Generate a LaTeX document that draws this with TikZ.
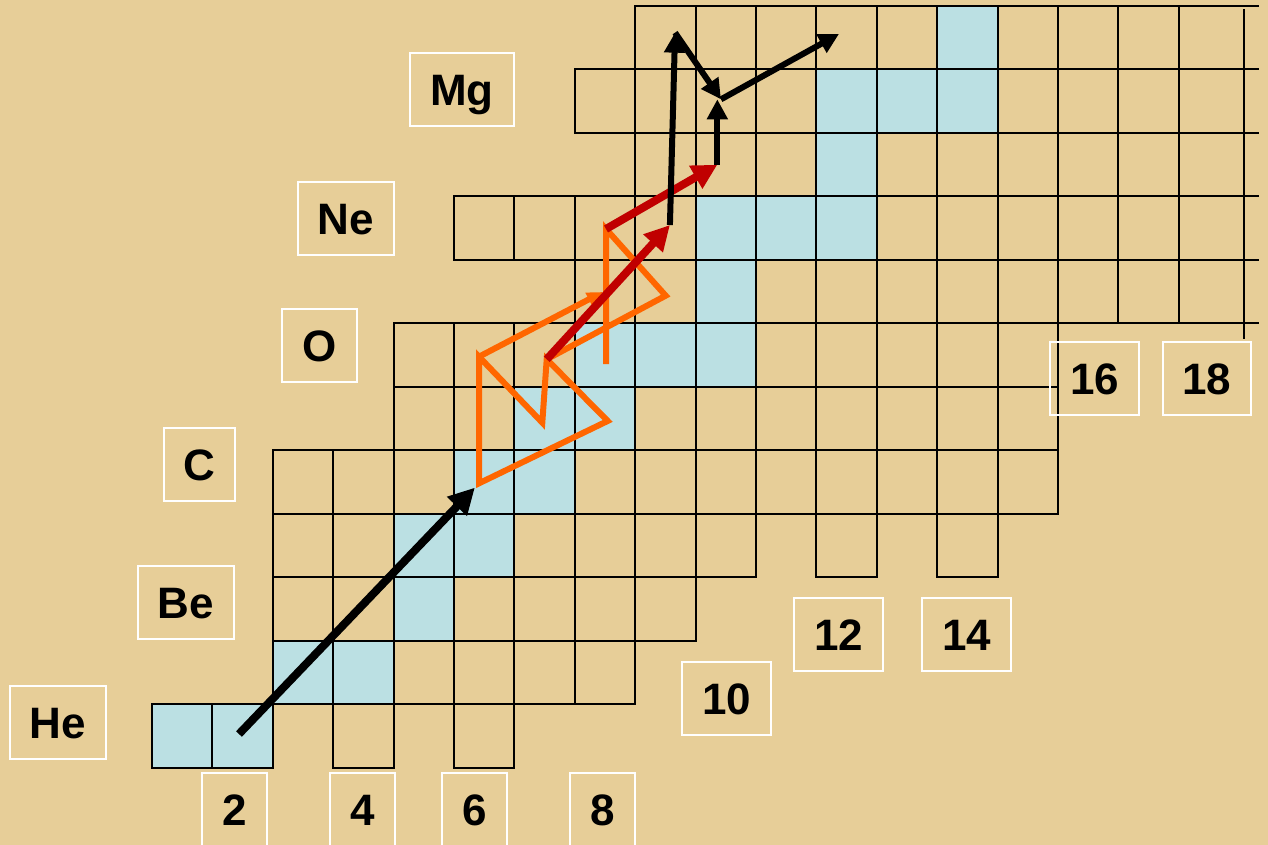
\documentclass[tikz,border=0pt]{standalone}
\usepackage{fontspec}
\setmainfont{Liberation Sans}
\usetikzlibrary{arrows.meta}
\definecolor{paper}{RGB}{231,206,152}
\definecolor{stable}{RGB}{187,224,227}
\definecolor{cnoorange}{RGB}{255,102,0}
\definecolor{breakred}{RGB}{192,0,0}
\tikzset{
    cell/.style={draw=black, line width=1pt},
    stable cell/.style={fill=stable},
    chartlabel/.style={
        draw=white, line width=1pt,
        minimum height=36.5pt, inner xsep=10pt,
        text height=15.75pt, text depth=0pt,
        font=\bfseries\fontsize{22}{26}\selectfont
    },
    alpha path/.style={line width=4pt, black, -{Triangle[length=13pt,width=13pt]}},
    cno path/.style={line width=3pt, cnoorange},
    breakout/.style={line width=4pt, breakred, -{Triangle[length=12.5pt,width=12.5pt]}},
    rp path/.style={line width=3pt, black, -{Triangle[length=10pt,width=10pt]}}
}

\begin{document}
\begin{tikzpicture}[x=30.2pt, y=31.75pt]
    \fill[paper] (-2.5166,-1.2126) rectangle (18.477,12.0945);
    \useasboundingbox (-2.5166,-1.2126) rectangle (18.477,12.0945);
    % stable nuclei
    \foreach \c/\r in {0/0,1/0,2/1,3/1,4/2,4/3,5/3,5/4,6/4,6/5,7/5,7/6,8/6,9/6,
                       9/7,9/8,10/8,11/8,11/9,11/10,12/10,13/10,13/11}
        \fill[stable cell] (\c,\r) rectangle ++(1,1);
    % chart cells, row by row
    \foreach \r/\cols in {0/{0,1,3,5}, 1/{2,...,7}, 2/{2,...,8}, 3/{2,...,9,11,13},
                          4/{2,...,14}, 5/{4,...,14}, 6/{4,...,14}, 7/{7,...,16},
                          8/{5,...,16}, 9/{8,...,16}, 10/{7,...,16}, 11/{8,...,16}}
        \foreach \c in \cols
            \draw[cell] (\c,\r) rectangle ++(1,1);
    \foreach \r in {7,...,12}
        \draw[cell] (17,\r) -- (18.33,\r);
    \draw[cell] (18.08,6.756) -- (18.08,11.95);

    % element and neutron number labels
    \node[chartlabel] (He) at (-1.560,0.709) {He};
    \node[chartlabel] (Be) at (0.563,2.606) {Be};
    \node[chartlabel] (C) at (0.786,4.780) {C};
    \node[chartlabel] (O) at (2.773,6.646) {O};
    \node[chartlabel] (Ne) at (3.212,8.654) {Ne};
    \node[chartlabel] (Mg) at (5.132,10.677) {Mg};
    \node[chartlabel] (n2) at (1.366,-0.661) {2};
    \node[chartlabel] (n4) at (3.485,-0.661) {4};
    \node[chartlabel] (n6) at (5.339,-0.661) {6};
    \node[chartlabel] (n8) at (7.459,-0.661) {8};
    \node[chartlabel] (n10) at (9.512,1.094) {10};
    \node[chartlabel] (n12) at (11.366,2.102) {12};
    \node[chartlabel] (n14) at (13.485,2.102) {14};
    \node[chartlabel] (n16) at (15.604,6.134) {16};
    \node[chartlabel] (n18) at (17.467,6.134) {18};

    \coordinate (He4) at (1.44,0.535);
    \coordinate (C12) at (5.414,4.483);
    \coordinate (O14) at (5.414,6.477);
    \coordinate (N14) at (6.462,5.438);
    \coordinate (O15) at (6.535,6.436);
    \coordinate (N15) at (7.545,5.465);
    \coordinate (F17) at (7.467,7.496);
    \coordinate (O16) at (7.517,6.362);
    \coordinate (Ne18) at (7.517,8.488);
    \coordinate (F18) at (8.505,7.438);
    \coordinate (Ne19) at (8.575,8.551);
    \coordinate (Na21) at (9.36,9.50);
    \coordinate (Mg22) at (9.42,10.53);
    \coordinate (Al22) at (8.66,11.58);
    \coordinate (Al25) at (11.374,11.559);

    \draw[alpha path, shorten >=3pt] (He4) -- (C12);
    % hot CNO cycles
    \draw[cno path] (C12) -- (O14) -- (N14) -- (O15) -- (N15) -- cycle;
    \draw[cno path] (O15) -- (F18) -- (Ne18) -- (O16);
    \draw[cno path, -{Triangle[length=8pt,width=7pt]}] (O14) -- (F17);
    % breakout
    \draw[breakout] (O15) -- (Ne19);
    \draw[breakout] (Ne18) -- (Na21);
    % rp process
    \draw[rp path] (Ne19) -- (Al22);
    \draw[rp path] (Al22) -- (Mg22);
    \draw[rp path] (Na21) -- (Na21 |- Mg22);
    \draw[rp path] (Mg22) -- (Al25);
\end{tikzpicture}
\end{document}
